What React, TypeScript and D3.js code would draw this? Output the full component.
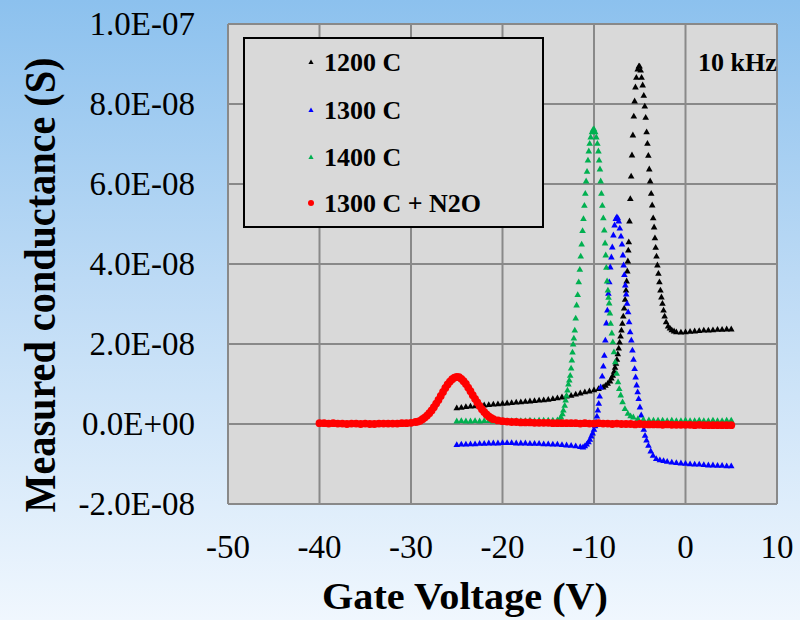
import React from "react";
import * as d3 from "d3";

// Gate voltage (V), conductance in units of 1e-8 S
const series1200: [number, number][] = [
  [-25, 0.41], [-24.5, 0.42], [-24, 0.44], [-23.5, 0.45], [-23, 0.46], [-22.5, 0.47], [-22, 0.48], [-21.5, 0.49],
  [-21, 0.5], [-20.5, 0.51], [-20, 0.52], [-19.5, 0.53], [-19, 0.54], [-18.5, 0.55], [-18, 0.56], [-17.5, 0.57],
  [-17, 0.58], [-16.5, 0.59], [-16, 0.6], [-15.5, 0.61], [-15, 0.62], [-14.5, 0.64], [-14, 0.66], [-13.5, 0.68],
  [-13, 0.7], [-12.5, 0.72], [-12, 0.75], [-11.5, 0.78], [-11, 0.81], [-10.5, 0.83], [-10, 0.86], [-9.5, 0.89],
  [-9, 0.93], [-8.75, 0.97], [-8.5, 1.02], [-8.25, 1.08], [-8.1, 1.15], [-7.95, 1.22], [-7.8, 1.32], [-7.7, 1.42],
  [-7.6, 1.52], [-7.5, 1.62], [-7.4, 1.76], [-7.3, 1.9], [-7.2, 2.05], [-7.1, 2.2], [-7.0, 2.35], [-6.9, 2.52],
  [-6.8, 2.7], [-6.7, 2.9], [-6.6, 3.12], [-6.5, 3.35], [-6.43, 3.58], [-6.36, 3.83], [-6.3, 4.08], [-6.25, 4.35],
  [-6.2, 4.56], [-6.12, 5.08], [-6.03, 5.64], [-5.94, 6.2], [-5.85, 6.73], [-5.75, 7.23], [-5.65, 7.7], [-5.56, 8.08],
  [-5.47, 8.43], [-5.37, 8.67], [-5.22, 8.88], [-5.1, 8.95], [-5.02, 8.95], [-4.9, 8.85], [-4.8, 8.67], [-4.68, 8.48],
  [-4.56, 8.22], [-4.45, 7.95], [-4.35, 7.67], [-4.25, 7.31], [-4.16, 7.02], [-4.06, 6.72], [-3.96, 6.38], [-3.86, 6.08],
  [-3.75, 5.77], [-3.64, 5.48], [-3.53, 5.16], [-3.43, 4.93], [-3.34, 4.66], [-3.26, 4.42], [-3.17, 4.2], [-3.07, 3.98],
  [-2.96, 3.77], [-2.85, 3.56], [-2.74, 3.35], [-2.63, 3.18], [-2.52, 3.02], [-2.4, 2.85], [-2.28, 2.7], [-2.12, 2.56],
  [-1.9, 2.45], [-1.7, 2.4], [-1.5, 2.36], [-1.25, 2.33], [-1, 2.31], [-0.5, 2.3], [0, 2.31], [0.5, 2.32],
  [1, 2.33], [1.5, 2.34], [2, 2.35], [2.5, 2.35], [3, 2.36], [3.5, 2.37], [4, 2.37], [4.5, 2.38], [5, 2.38],
];

const series1300: [number, number][] = [
  [-25, -0.51], [-24.5, -0.5], [-24, -0.5], [-23.5, -0.49], [-23, -0.49], [-22.5, -0.48], [-22, -0.48], [-21.5, -0.47],
  [-21, -0.47], [-20.5, -0.47], [-20, -0.46], [-19.5, -0.46], [-19, -0.46], [-18.5, -0.47], [-18, -0.47], [-17.5, -0.47],
  [-17, -0.48], [-16.5, -0.48], [-16, -0.48], [-15.5, -0.49], [-15, -0.49], [-14.5, -0.5], [-14, -0.5], [-13.5, -0.51],
  [-13, -0.52], [-12.5, -0.53], [-12, -0.54], [-11.5, -0.56], [-11.2, -0.57], [-11, -0.54], [-10.8, -0.5], [-10.6, -0.44],
  [-10.45, -0.38], [-10.3, -0.3], [-10.15, -0.22], [-10.0, -0.13], [-9.88, -0.04], [-9.78, 0.06], [-9.68, 0.2], [-9.58, 0.35],
  [-9.48, 0.52], [-9.38, 0.7], [-9.27, 0.93], [-9.1, 1.2], [-8.98, 1.45], [-8.87, 1.72], [-8.76, 2.1], [-8.65, 2.53],
  [-8.54, 2.85], [-8.43, 3.27], [-8.33, 3.56], [-8.22, 3.93], [-8.1, 4.18], [-8.0, 4.43], [-7.88, 4.73], [-7.75, 4.98],
  [-7.62, 5.14], [-7.5, 5.18], [-7.4, 5.16], [-7.3, 5.08], [-7.18, 4.9], [-7.05, 4.7], [-6.94, 4.5], [-6.84, 4.23],
  [-6.76, 3.98], [-6.68, 3.74], [-6.58, 3.48], [-6.48, 3.25], [-6.38, 3.02], [-6.27, 2.81], [-6.16, 2.56], [-6.05, 2.31],
  [-5.92, 2.1], [-5.8, 1.85], [-5.68, 1.62], [-5.56, 1.39], [-5.45, 1.18], [-5.34, 0.98], [-5.23, 0.81], [-5.12, 0.64],
  [-4.98, 0.43], [-4.84, 0.23], [-4.7, 0.03], [-4.56, -0.13], [-4.42, -0.28], [-4.26, -0.4], [-4.05, -0.53], [-3.8, -0.67],
  [-3.55, -0.78], [-3.2, -0.86], [-2.8, -0.89], [-2.4, -0.91], [-2, -0.93], [-1.5, -0.95], [-1, -0.96], [-0.5, -0.97],
  [0, -0.98], [0.5, -0.99], [1, -1.0], [1.5, -1.0], [2, -1.01], [2.5, -1.02], [3, -1.02], [3.5, -1.03], [4, -1.03],
  [4.5, -1.04], [5, -1.04],
];

const series1400: [number, number][] = [
  [-25, 0.08], [-24.5, 0.09], [-24, 0.08], [-23.5, 0.08], [-23, 0.09], [-22.5, 0.08], [-22, 0.09], [-21.5, 0.09],
  [-21, 0.08], [-20.5, 0.09], [-20, 0.09], [-19.5, 0.08], [-19, 0.09], [-18.5, 0.09], [-18, 0.09], [-17.5, 0.09],
  [-17, 0.1], [-16.5, 0.09], [-16, 0.1], [-15.5, 0.1], [-15, 0.1], [-14.5, 0.1], [-14, 0.11], [-13.75, 0.13],
  [-13.6, 0.18], [-13.45, 0.26], [-13.35, 0.35], [-13.2, 0.47], [-13.1, 0.6], [-13.0, 0.72], [-12.9, 0.85], [-12.8, 1.0],
  [-12.7, 1.1], [-12.6, 1.22], [-12.5, 1.4], [-12.42, 1.6], [-12.35, 1.8], [-12.28, 2.0], [-12.2, 2.15], [-12.1, 2.35],
  [-12.0, 2.65], [-11.9, 2.98], [-11.78, 3.24], [-11.67, 3.56], [-11.55, 3.87], [-11.45, 4.2], [-11.35, 4.5], [-11.25, 4.84],
  [-11.15, 5.14], [-11.05, 5.47], [-10.95, 5.77], [-10.86, 6.08], [-10.76, 6.32], [-10.66, 6.6], [-10.57, 6.83], [-10.47, 7.02],
  [-10.36, 7.18], [-10.22, 7.31], [-10.1, 7.37], [-10.0, 7.38], [-9.87, 7.31], [-9.75, 7.18], [-9.63, 7.02], [-9.52, 6.83],
  [-9.44, 6.6], [-9.35, 6.38], [-9.27, 6.08], [-9.19, 5.77], [-9.09, 5.47], [-8.98, 5.16], [-8.88, 4.85], [-8.79, 4.53],
  [-8.72, 4.23], [-8.65, 3.92], [-8.57, 3.58], [-8.48, 3.35], [-8.41, 3.17], [-8.34, 3.03], [-8.26, 2.78], [-8.18, 2.52],
  [-8.05, 2.28], [-7.94, 2.06], [-7.82, 1.81], [-7.68, 1.56], [-7.52, 1.27], [-7.37, 1.06], [-7.24, 0.89], [-7.08, 0.73],
  [-6.88, 0.56], [-6.62, 0.39], [-6.3, 0.27], [-6, 0.21], [-5.7, 0.18], [-5.2, 0.14], [-4.6, 0.12], [-4, 0.11],
  [-3.5, 0.1], [-3, 0.1], [-2.5, 0.1], [-2, 0.09], [-1.5, 0.1], [-1, 0.09], [-0.5, 0.09], [0, 0.1], [0.5, 0.09],
  [1, 0.09], [1.5, 0.1], [2, 0.09], [2.5, 0.09], [3, 0.1], [3.5, 0.09], [4, 0.09], [4.5, 0.1], [5, 0.1],
];

const series1300N2O: [number, number][] = [
  [-40, 0.02], [-39.5, 0.02], [-39, 0.01], [-38.5, 0.02], [-38, 0.01], [-37.5, 0.01], [-37, 0.0], [-36.5, 0.01],
  [-36, 0.01], [-35.5, 0.0], [-35, 0.01], [-34.5, 0.0], [-34, 0.0], [-33.5, 0.01], [-33, 0.01], [-32.5, 0.01],
  [-32, 0.01], [-31.5, 0.01], [-31, 0.02], [-30.5, 0.02], [-30, 0.03], [-29.5, 0.05], [-29.25, 0.06], [-29, 0.08],
  [-28.75, 0.12], [-28.5, 0.16], [-28.25, 0.21], [-28, 0.27], [-27.75, 0.34], [-27.5, 0.42], [-27.25, 0.51], [-27, 0.6],
  [-26.75, 0.7], [-26.5, 0.8], [-26.25, 0.9], [-26, 0.99], [-25.75, 1.06], [-25.5, 1.12], [-25.25, 1.16], [-25, 1.18],
  [-24.75, 1.17], [-24.5, 1.13], [-24.25, 1.07], [-24, 1.0], [-23.75, 0.91], [-23.5, 0.82], [-23.25, 0.72], [-23, 0.63],
  [-22.75, 0.54], [-22.5, 0.45], [-22.25, 0.37], [-22, 0.3], [-21.75, 0.24], [-21.5, 0.19], [-21.25, 0.15], [-21, 0.12],
  [-20.5, 0.09], [-20, 0.07], [-19.5, 0.06], [-19, 0.05], [-18.5, 0.05], [-18, 0.04], [-17.5, 0.04], [-17, 0.04],
  [-16.5, 0.03], [-16, 0.03], [-15.5, 0.03], [-15, 0.03], [-14.5, 0.02], [-14, 0.02], [-13.5, 0.02], [-13, 0.02],
  [-12.5, 0.02], [-12, 0.02], [-11.5, 0.01], [-11, 0.02], [-10.5, 0.01], [-10, 0.01], [-9.5, 0.02], [-9, 0.01],
  [-8.5, 0.01], [-8, 0.0], [-7.5, 0.01], [-7, 0.0], [-6.5, 0.0], [-6, 0.0], [-5.5, -0.01], [-5, 0.0], [-4.5, -0.01],
  [-4, -0.01], [-3.5, -0.01], [-3, -0.01], [-2.5, -0.02], [-2, -0.01], [-1.5, -0.02], [-1, -0.02], [-0.5, -0.02],
  [0, -0.02], [0.5, -0.02], [1, -0.03], [1.5, -0.02], [2, -0.03], [2.5, -0.03], [3, -0.03], [3.5, -0.03], [4, -0.03],
  [4.5, -0.03], [5, -0.03],
];

const xTicks = [-50, -40, -30, -20, -10, 0, 10];
const xTickLabels = ["-50", "-40", "-30", "-20", "-10", "0", "10"];
const yTicks = [-2, 0, 2, 4, 6, 8, 10];
const yTickLabels = ["-2.0E-08", "0.0E+00", "2.0E-08", "4.0E-08", "6.0E-08", "8.0E-08", "1.0E-07"];

const seriesNames = ["1200 C", "1300 C", "1400 C", "1300 C + N2O"];
const seriesColors = ["#000000", "#0000ff", "#00b050", "#ff0000"];
const seriesShapes = ["triangle", "triangle", "triangle", "circle"];

const xTitle = "Gate Voltage (V)";
const yTitle = "Measured conductance (S)";
const annotation = "10 kHz";

const serif = "'Liberation Serif', 'Times New Roman', Times, serif";

export default function App() {
  const left = 228, right = 777, top = 24, bottom = 504;
  const x = d3.scaleLinear().domain([-50, 10]).range([left, right]);
  const y = d3.scaleLinear().domain([-2, 10]).range([bottom, top]);

  const allSeries = [series1200, series1300, series1400, series1300N2O];
  const tri = "M0,-3.2L3.3,2.6L-3.3,2.6Z";
  const triLegend = "M0,-2.6L2.6,2L-2.6,2Z";

  const legendRows = [62, 110, 157, 203];

  return (
    <svg width={800} height={620} style={{ position: "absolute", left: 0, top: 0, display: "block" }}>
      <defs>
        <linearGradient id="bg" x1="0" y1="0" x2="0" y2="1">
          <stop offset="0" stopColor="#8cc1ee" />
          <stop offset="0.45" stopColor="#bcdaf5" />
          <stop offset="1" stopColor="#f0f7fe" />
        </linearGradient>
        <clipPath id="plotclip">
          <rect x={left} y={top} width={right - left} height={bottom - top} />
        </clipPath>
      </defs>
      <rect x={0} y={0} width={800} height={620} fill="url(#bg)" />

      {/* plot area */}
      <rect x={left} y={top} width={right - left} height={bottom - top} fill="#d9d9d9" />
      {xTicks.map((t) => (
        <line key={"gx" + t} x1={x(t)} x2={x(t)} y1={top} y2={bottom} stroke="#898989" strokeWidth={2} />
      ))}
      {yTicks.map((t) => (
        <line key={"gy" + t} x1={left} x2={right} y1={y(t)} y2={y(t)} stroke="#898989" strokeWidth={2} />
      ))}

      {/* tick labels */}
      {yTicks.map((t, i) => (
        <text key={"ty" + t} x={195} y={y(t) + 11} textAnchor="end" fontFamily={serif} fontSize={33} fill="#000">
          {yTickLabels[i]}
        </text>
      ))}
      {xTicks.map((t, i) => (
        <text key={"tx" + t} x={x(t)} y={558} textAnchor="middle" fontFamily={serif} fontSize={33} fill="#000">
          {xTickLabels[i]}
        </text>
      ))}

      {/* titles */}
      <text x={322} y={609} fontFamily={serif} fontSize={38} fontWeight="bold" textLength={286} lengthAdjust="spacingAndGlyphs">
        {xTitle}
      </text>
      <text
        transform="translate(55,285) rotate(-90)"
        textAnchor="middle"
        fontFamily={serif}
        fontSize={44}
        fontWeight="bold"
        textLength={455}
        lengthAdjust="spacingAndGlyphs"
      >
        {yTitle}
      </text>

      {/* data */}
      <g clipPath="url(#plotclip)">
        {allSeries.map((s, si) => (
          <g key={"s" + si} fill={seriesColors[si]}>
            {s.map((d, i) =>
              seriesShapes[si] === "circle" ? (
                <circle key={i} cx={x(d[0])} cy={y(d[1])} r={3.9} />
              ) : (
                <path key={i} d={tri} transform={`translate(${x(d[0])},${y(d[1])})`} />
              )
            )}
          </g>
        ))}
      </g>

      {/* annotation */}
      <text x={698} y={71} fontFamily={serif} fontSize={26} fontWeight="bold">
        {annotation}
      </text>

      {/* legend */}
      <rect x={244} y={38} width={299} height={189} fill="#d9d9d9" stroke="#000" strokeWidth={2} />
      {seriesNames.map((n, i) => (
        <g key={"lg" + i}>
          {seriesShapes[i] === "circle" ? (
            <circle cx={311} cy={legendRows[i]} r={3} fill={seriesColors[i]} />
          ) : (
            <path d={triLegend} transform={`translate(311,${legendRows[i]})`} fill={seriesColors[i]} />
          )}
          <text x={324} y={legendRows[i] + 9} fontFamily={serif} fontSize={26} fontWeight="bold">
            {n}
          </text>
        </g>
      ))}
    </svg>
  );
}
